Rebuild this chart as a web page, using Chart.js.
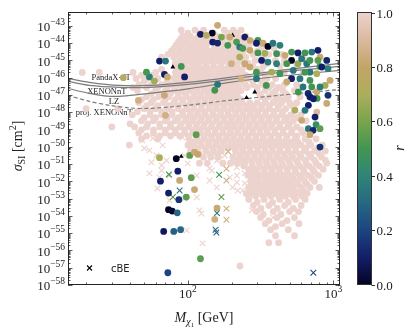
<!DOCTYPE html>
<html>
<head>
<meta charset="utf-8">
<script src="https://cdn.jsdelivr.net/npm/chart.js@4.4.1/dist/chart.umd.min.js"></script>
<style>
html, body { margin: 0; padding: 0; background: #fff; }
canvas { display: block; }
</style>
</head>
<body>
<canvas id="chart" width="415" height="332"></canvas>
<script>
// axis ranges
var massMin = 15, massMax = 1110;
var sigmaMinExp = -58, sigmaMaxExp = -42.2;
var yLabelExps = [-43, -44, -45, -46, -47, -48, -49, -50, -51, -52, -53, -54, -55, -56, -57, -58];
var xLabelExps = [2, 3];
var colorbarTicks = [0, 0.2, 0.4, 0.6, 0.8, 1.0];

// dense r ~ 1 cloud, one row per log10(sigma)
var cloudLogSigma = [-43.25, -43.6, -43.95, -44.3, -44.65, -45.0, -45.35, -45.7, -46.05, -46.4, -46.75, -47.1,
  -47.45, -47.8, -48.15, -48.5, -48.85, -49.2, -49.55, -49.9, -50.25, -50.6, -50.95, -51.3, -51.65, -52.0,
  -52.35, -52.7, -53.05, -53.4, -53.75, -54.1, -54.45, -54.8, -55.15, -55.55, -56.9];
var cloudMass = [
  [90, 112, 128, 178, 205, 232],
  [92, 104, 118, 140, 158, 185, 222, 250],
  [86, 97, 110, 125, 138, 170, 196, 240, 280],
  [80, 90, 102, 115, 130, 152, 176, 205, 255, 320, 390],
  [73, 84, 95, 107, 120, 135, 152, 172, 198, 225, 280, 360, 440],
  [88, 100, 112, 125, 142, 160, 180, 205, 232, 290, 400, 460, 640],
  [84, 96, 108, 120, 134, 150, 168, 190, 215, 245, 280, 330, 430, 560],
  [18.8, 24.6, 42, 60, 82, 92, 104, 116, 130, 146, 164, 185, 210, 236, 320, 460, 620],
  [44, 52, 62, 80, 90, 100, 112, 126, 142, 160, 180, 204, 228, 262, 300, 350, 400, 510],
  [46, 56, 66, 76, 86, 97, 108, 122, 136, 152, 172, 194, 218, 248, 280, 330, 380, 460, 560],
  [45, 60, 70, 80, 92, 104, 116, 130, 146, 164, 184, 206, 232, 340, 400, 450, 540],
  [52, 63, 74, 86, 98, 110, 123, 138, 155, 174, 196, 220, 320, 360, 420, 490, 590],
  [46, 56, 68, 80, 92, 104, 117, 132, 148, 166, 186, 210, 236, 266, 300, 340, 385, 440, 500, 560],
  [20, 33, 50, 60, 72, 86, 98, 110, 124, 140, 158, 178, 200, 226, 254, 286, 322, 365, 415, 470, 540],
  [41.5, 55, 66, 78, 92, 104, 117, 132, 150, 168, 190, 214, 240, 270, 304, 342, 388, 440, 510, 600],
  [48, 58, 70, 82, 96, 108, 122, 138, 156, 176, 198, 222, 250, 282, 318, 358, 405, 460, 530, 650],
  [30, 43, 52, 64, 76, 88, 101, 114, 128, 145, 164, 184, 206, 232, 262, 295, 332, 375, 425, 485, 560],
  [46, 58, 70, 82, 95, 108, 122, 137, 154, 174, 196, 220, 247, 278, 314, 352, 398, 452, 515, 620],
  [48, 62, 102, 116, 130, 146, 164, 184, 206, 232, 260, 292, 330, 372, 420, 475, 545, 640, 760],
  [39.6, 100, 110, 124, 140, 157, 177, 200, 224, 252, 284, 320, 360, 405, 458, 520, 600, 700, 840],
  [104, 133, 150, 170, 212, 238, 268, 302, 340, 382, 430, 488, 550, 630, 740, 880],
  [128, 144, 162, 204, 228, 256, 288, 324, 365, 412, 465, 525, 600, 700, 830],
  [120, 136, 174, 196, 220, 246, 276, 310, 348, 392, 442, 500, 570, 650, 760, 900],
  [262, 296, 334, 376, 424, 480, 545, 620, 720, 850],
  [258, 284, 318, 358, 402, 455, 515, 585, 670, 790],
  [270, 304, 342, 385, 435, 490, 555, 635, 740],
  [262, 292, 326, 366, 412, 465, 525, 600, 690, 800],
  [252, 278, 310, 350, 395, 445, 505, 575, 660],
  [262, 334, 428, 550, 640],
  [282, 360, 462, 600],
  [296, 386, 500, 575],
  [316, 410, 540],
  [340, 445, 580],
  [370, 490],
  [400, 540],
  [360, 420],
  [228]
];
// in-between rows of the same cloud
var cloudMidLogSigma = [-43.42, -43.77, -44.12, -44.47, -44.82, -45.17, -45.52, -45.87, -46.22, -46.57, -46.92, -47.27,
  -47.62, -47.97, -48.32, -48.67, -49.02, -49.37, -49.72, -50.07, -50.42, -50.77, -51.12, -51.47, -51.82, -52.17,
  -52.52, -52.87, -53.22, -53.57, -53.92, -54.27, -54.62];
var cloudMidMass = [
  [100, 120, 150, 192, 218],
  [89, 100, 114, 130, 148, 176, 210, 236],
  [83, 93, 105, 120, 134, 160, 186, 222, 262],
  [77, 88, 99, 110, 125, 142, 162, 188, 215, 240, 300],
  [66, 80, 92, 103, 115, 130, 146, 165, 188, 215, 250, 330],
  [82, 94, 106, 118, 133, 150, 170, 192, 220, 260, 350],
  [66, 90, 100, 112, 124, 140, 157, 176, 198, 225, 300],
  [48, 56, 70, 86, 96, 108, 120, 134, 151, 170, 195, 218, 250, 340],
  [50, 58, 72, 84, 94, 104, 116, 130, 148, 166, 188, 210, 240, 280, 320],
  [42, 52, 62, 72, 82, 92, 102, 112, 128, 142, 158, 178, 200, 225, 255, 300, 360, 420],
  [56, 66, 76, 86, 96, 110, 122, 136, 150, 168, 190, 214, 310, 380, 470],
  [48, 58, 70, 82, 92, 104, 116, 130, 146, 164, 184, 206, 230, 340, 400, 460],
  [52, 62, 74, 86, 98, 110, 124, 140, 156, 176, 198, 222, 250, 280, 320, 360, 420, 520],
  [45, 55, 66, 78, 92, 104, 116, 130, 148, 168, 188, 212, 238, 268, 300, 342, 390, 450],
  [50, 60, 72, 86, 98, 110, 124, 140, 158, 178, 200, 226, 254, 286, 322, 364, 410, 480, 560],
  [40, 53, 64, 76, 90, 102, 115, 130, 147, 166, 188, 210, 236, 266, 300, 338, 380, 430, 500],
  [48, 58, 70, 82, 95, 108, 121, 136, 154, 174, 196, 220, 247, 278, 312, 350, 395, 450, 520, 600],
  [52, 64, 76, 88, 101, 115, 129, 145, 163, 184, 206, 232, 260, 294, 330, 372, 420, 480, 560],
  [108, 122, 138, 155, 175, 196, 218, 246, 276, 310, 350, 392, 440, 500, 570, 680],
  [105, 118, 132, 148, 166, 188, 212, 238, 266, 300, 338, 380, 428, 485, 550, 650, 780],
  [120, 142, 160, 226, 252, 284, 320, 360, 405, 456, 515, 585, 680, 800],
  [216, 240, 270, 304, 342, 385, 434, 490, 555, 640, 740, 880],
  [242, 278, 314, 354, 400, 452, 512, 585, 680, 800],
  [270, 300, 338, 380, 428, 484, 550, 630, 740],
  [276, 300, 336, 376, 420, 470, 530, 605, 710],
  [285, 318, 356, 398, 448, 505, 570, 660],
  [270, 300, 338, 378, 426, 480, 540, 620],
  [262, 292, 330, 372, 420, 470, 530, 610],
  [300, 382, 490],
  [318, 412, 530],
  [330, 435],
  [360, 480],
  [400]
];

// coloured circles
var pointMass = [147, 122, 134, 160, 170, 148, 160, 194, 188, 216, 63.8, 70.2, 69, 54.4, 58.9, 51.9, 94.9, 90, 72.4, 69,
  160, 153, 246, 267, 303, 328, 355, 384, 429, 227, 267, 303, 338, 407, 465, 516, 571, 638, 710, 809,
  900, 516, 321, 355, 407, 478, 571, 656, 783, 918, 267, 296, 376, 429, 516, 589, 690, 948, 618, 710,
  877, 670, 769, 918, 544, 673, 900, 638, 769, 605, 748, 760, 673, 725, 809, 690, 809, 690, 772, 63.8,
  83.2, 103, 111, 117, 64.8, 85.3, 87.7, 105.5, 111, 73.6, 86.7, 97.5, 73.6, 78, 84.5, 68.2, 80, 89.1, 122, 72.8,
  153, 158.5, 114, 238, 296, 783, 690, 809, 199, 233, 45.7, 70.2, 36,
  605, 690, 832, 530, 638, 769, 478, 809, 574, 728, 227, 246, 296, 346];
var pointLogSigma = [-43.42, -43.49, -43.55, -42.97, -43.65, -43.94, -44.0, -43.65, -44.13, -43.94, -45.04, -45.04, -45.81, -45.96, -46.2, -45.68, -45.96, -45.35, -45.96, -47.02,
  -46.39, -46.73, -43.65, -43.84, -43.84, -44.01, -44.19, -44.01, -44.13, -44.23, -44.42, -44.57, -44.59, -44.61, -44.71, -44.52, -44.57, -44.57, -44.52, -44.81,
  -45.0, -45.0, -45.0, -45.1, -45.19, -45.19, -45.19, -45.19, -45.0, -45.48, -45.39, -45.68, -45.68, -45.77, -46.06, -46.06, -46.16, -46.16, -46.54, -46.54,
  -46.45, -46.91, -46.83, -47.02, -47.89, -47.6, -47.49, -47.89, -47.99, -48.47, -48.28, -48.72, -48.95, -49.05, -48.95, -49.3, -50.02, -47.12, -47.2, -50.63,
  -50.69, -50.5, -50.31, -50.44, -51.99, -51.41, -51.95, -51.79, -52.48, -52.68, -53.06, -52.91, -53.64, -53.72, -53.82, -54.9, -54.9, -54.8, -56.48, -57.29,
  -54.2, -53.55, -49.3, -44.3, -44.01, -44.42, -45.68, -45.35, -45.19, -46.06, -47.31, -48.18, -46.0,
  -44.9, -45.0, -45.39, -45.58, -45.68, -45.77, -46.25, -46.54, -46.83, -47.22, -44.81, -45.19, -46.06, -46.45];
var pointR = [0, 0.1, 0.75, 0.82, 0.6, 0.1, 0.12, 0.82, 0.5, 0.52, 0.1, 0.35, 0.1, 0.38, 0.68, 0.5, 0.1, 0.5, 0.82, 0.82,
  0.35, 0.5, 0.1, 0.82, 0.5, 0.82, 0, 0.35, 0.38, 0.35, 0.8, 0.5, 0.68, 0.48, 0.82, 0.5, 0.1, 0.5, 0.35, 0.82,
  0.12, 0, 0.1, 0.35, 0.38, 0.5, 0.65, 0.35, 0.55, 0.38, 0.82, 0.5, 0.68, 0.5, 0.1, 0.35, 0.5, 0.82, 0.35, 0.5,
  0.68, 0.12, 0.82, 0.15, 0.7, 0.1, 0.82, 0.35, 0.9, 0.82, 0.1, 0.45, 0.35, 0.12, 0.55, 0.82, 0.15, 0.1, 0.5, 0.7,
  0, 0.55, 0.82, 0.8, 0.1, 0.1, 0.82, 0.55, 0.82, 0.1, 0.15, 0.55, 0, 0.02, 0.3, 0.08, 0.28, 0.3, 0.55, 0.2,
  0.85, 0.82, 0.55, 0.5, 0.1, 0.1, 0.35, 0.5, 0.85, 0.85, 0.85, 0.85, 0.75,
  0.35, 0.5, 0.1, 0.35, 0.5, 0.7, 0.82, 0.38, 0.5, 0.1, 0.7, 0.82, 0.35, 0.5];

// small black markers
var markMass = [78.8, 203, 288, 253, 90];
var markLogSigma = [-45.39, -43.55, -46.83, -47.16, -50.56];

// cBE crosses, coloured
var crossMass = [164, 170, 158.5, 155, 157, 728, 189, 184, 184, 184, 184, 74, 78.9, 87.7];
var crossLogSigma = [-51.62, -52.91, -53.84, -54.8, -54.96, -57.29, -50.27, -51.27, -51.95, -53.58, -54.22, -51.6, -52.91, -52.53];
var crossR = [0.5, 0.55, 0.35, 0.3, 0.3, 0.2, 0.85, 0.85, 0.85, 0.85, 0.85, 0.5, 0.55, 0.35];

// cBE crosses, r ~ 1
var paleCrossMass = [57.2, 67, 54.4, 60.8, 56.2, 65.9, 71.3, 74.8, 94.8, 106, 99.5, 115, 141, 158, 179, 210, 217, 210, 210, 235,
  217, 246, 217, 246, 203, 50.2, 66, 54.4, 63.8, 61.8, 74.8, 94.8, 115, 124, 120, 98, 126, 146, 141, 158,
  194, 220, 238, 275, 384, 384, 160, 194, 217, 48.6, 92, 115];
var paleCrossLogSigma = [-49.51, -49.92, -50.21, -50.5, -50.9, -51.37, -50.79, -51.66, -50.5, -49.75, -50.96, -51.66, -51.25, -50.79, -50.5, -50.9, -51.66, -49.63, -50.04, -49.75,
  -51.19, -51.54, -52.06, -52.12, -52.35, -50.09, -51.08, -51.54, -51.77, -52.41, -53.1, -52.99, -52.93, -53.86, -53.68, -54.84, -55.59, -51.37, -51.95, -52.35,
  -51.77, -52.53, -52.53, -53.68, -53.28, -54.09, -49.92, -50.04, -50.04, -49.63, -49.46, -49.75];

// experimental limits
var limitNames = ['PandaX-4T', 'XENONnT', 'LZ', 'proj. XENONnT'];
var limitLabelMass = [29.7, 27.7, 31, 26.6];
var limitLabelLogSigma = [-46.0, -46.83, -47.41, -48.03];
var pandaMass = [14.9, 21, 33.8, 54.4, 100, 194, 429, 1112];
var pandaLogSigma = [-46.04, -46.27, -46.45, -46.45, -46.27, -45.98, -45.58, -45.17];
var xenonMass = [14.9, 21, 33.8, 54.4, 100, 194, 429, 1112];
var xenonLogSigma = [-46.21, -46.45, -46.56, -46.56, -46.39, -46.1, -45.69, -45.35];
var lzMass = [14.9, 21, 26.6, 33.8, 46.4, 100, 194, 429, 1112];
var lzLogSigma = [-46.62, -46.91, -47.05, -47.08, -46.97, -46.65, -46.27, -45.92, -45.58];
var projMass = [14.9, 21, 28.9, 39.6, 54.4, 100, 194, 429, 1112];
var projLogSigma = [-47.02, -47.37, -47.6, -47.75, -47.78, -47.6, -47.31, -47.02, -46.68];

var SERIF = '"Liberation Serif", "DejaVu Serif", serif';
var cmapStops = [[0, [3, 3, 35]], [0.1, [18, 30, 105]], [0.2, [28, 68, 128]], [0.3, [38, 104, 130]],
  [0.4, [48, 132, 118]], [0.5, [66, 150, 82]], [0.6, [122, 164, 76]], [0.7, [172, 174, 92]],
  [0.8, [196, 164, 104]], [0.9, [218, 186, 158]], [1, [237, 211, 206]]];

function cmap(r) {
  for (var i = 1; i < cmapStops.length; i++) {
    if (r <= cmapStops[i][0]) {
      var a = cmapStops[i - 1], b = cmapStops[i];
      var t = (r - a[0]) / (b[0] - a[0]);
      var c = a[1].map(function (v, k) { return Math.round(v + (b[1][k] - v) * t); });
      return 'rgb(' + c.join(',') + ')';
    }
  }
  return 'rgb(' + cmapStops[cmapStops.length - 1][1].join(',') + ')';
}

function toPoints(mass, logSigma) {
  return mass.map(function (m, i) { return { x: m, y: Math.pow(10, logSigma[i]) }; });
}

function rowsToPoints(rowSigma, rowMass, out) {
  for (var i = 0; i < rowSigma.length; i++) {
    for (var j = 0; j < rowMass[i].length; j++) {
      out.push({ x: rowMass[i][j], y: Math.pow(10, rowSigma[i]) });
    }
  }
  return out;
}

var cloudPoints = rowsToPoints(cloudMidLogSigma, cloudMidMass, rowsToPoints(cloudLogSigma, cloudMass, []));

function limitLine(mass, logSigma, dash) {
  return {
    data: toPoints(mass, logSigma), showLine: true, pointRadius: 0, borderColor: '#7c7c7c',
    borderWidth: 1.2, borderDash: dash, tension: 0.3, order: 2
  };
}

function drawRich(ctx, parts, x, y, align) {
  var w = 0;
  parts.forEach(function (p) { ctx.font = p.f; p.w = ctx.measureText(p.t).width; w += p.w; });
  var cx = align === 'right' ? x - w : (align === 'center' ? x - w / 2 : x);
  ctx.textAlign = 'left';
  ctx.textBaseline = 'alphabetic';
  parts.forEach(function (p) { ctx.font = p.f; ctx.fillText(p.t, cx, y + (p.dy || 0)); cx += p.w; });
}

var decor = {
  id: 'decor',
  beforeDatasetsDraw: function (chart) {
    var ctx = chart.ctx, xs = chart.scales.x, ys = chart.scales.y;
    ctx.save();
    ctx.fillStyle = '#222';
    ctx.font = '8.5px ' + SERIF;
    ctx.textAlign = 'center';
    ctx.textBaseline = 'middle';
    for (var i = 0; i < limitNames.length; i++) {
      ctx.fillText(limitNames[i], xs.getPixelForValue(limitLabelMass[i]), ys.getPixelForValue(Math.pow(10, limitLabelLogSigma[i])));
    }
    ctx.restore();
  },
  afterDraw: function (chart) {
    var ctx = chart.ctx, a = chart.chartArea, xs = chart.scales.x, ys = chart.scales.y;
    var base = '13px ' + SERIF, sup = '9.5px ' + SERIF;
    ctx.save();
    ctx.strokeStyle = '#333';
    ctx.lineWidth = 0.8;
    ctx.beginPath();
    // y ticks, inward on both sides
    for (var e = sigmaMinExp; e <= Math.floor(sigmaMaxExp); e++) {
      for (var k = 1; k <= 9; k++) {
        var v = k * Math.pow(10, e);
        if (Math.log10(v) > sigmaMaxExp) continue;
        var py = Math.round(ys.getPixelForValue(v)) + 0.5;
        var len = k === 1 ? 4.5 : 2.5;
        ctx.moveTo(a.left, py); ctx.lineTo(a.left + len, py);
        ctx.moveTo(a.right, py); ctx.lineTo(a.right - len, py);
      }
    }
    // x ticks
    for (var d = 1; d <= 3; d++) {
      for (var k2 = 1; k2 <= 9; k2++) {
        var m = k2 * Math.pow(10, d);
        if (m < massMin || m > massMax) continue;
        var px = Math.round(xs.getPixelForValue(m)) + 0.5;
        var l2 = k2 === 1 ? 4.5 : 2.5;
        ctx.moveTo(px, a.bottom); ctx.lineTo(px, a.bottom - l2);
        ctx.moveTo(px, a.top); ctx.lineTo(px, a.top + l2);
      }
    }
    ctx.stroke();
    ctx.strokeStyle = '#222';
    ctx.lineWidth = 1;
    ctx.strokeRect(a.left + 0.5, a.top + 0.5, a.right - a.left - 1, a.bottom - a.top - 1);

    ctx.fillStyle = '#222';
    yLabelExps.forEach(function (ex) {
      var py2 = ys.getPixelForValue(Math.pow(10, ex));
      drawRich(ctx, [{ t: '10', f: base }, { t: '\u2212' + Math.abs(ex), f: sup, dy: -6 }], a.left - 3, py2 + 5.2, 'right');
    });
    xLabelExps.forEach(function (ex) {
      var px2 = xs.getPixelForValue(Math.pow(10, ex));
      drawRich(ctx, [{ t: '10', f: base }, { t: String(ex), f: sup, dy: -6 }], px2, 298, 'center');
    });

    // axis titles
    drawRich(ctx, [{ t: 'M', f: 'italic 14px ' + SERIF }, { t: '\u03c7', f: 'italic 10px ' + SERIF, dy: 3 },
      { t: '1', f: '7px ' + SERIF, dy: 5 }, { t: ' [GeV]', f: '14px ' + SERIF }], (a.left + a.right) / 2, 322, 'center');
    ctx.save();
    ctx.translate(22, 146);
    ctx.rotate(-Math.PI / 2);
    drawRich(ctx, [{ t: '\u03c3', f: 'italic 14px ' + SERIF }, { t: 'SI', f: '10px ' + SERIF, dy: 3 },
      { t: ' [cm', f: '14px ' + SERIF }, { t: '2', f: '10px ' + SERIF, dy: -6 }, { t: ']', f: '14px ' + SERIF }], 0, 0, 'center');
    ctx.restore();

    // legend
    ctx.strokeStyle = '#000';
    ctx.lineWidth = 1.1;
    ctx.beginPath();
    ctx.moveTo(87, 265.5); ctx.lineTo(92, 270.5);
    ctx.moveTo(92, 265.5); ctx.lineTo(87, 270.5);
    ctx.stroke();
    ctx.font = '10px "DejaVu Sans", sans-serif';
    ctx.textAlign = 'left';
    ctx.fillText('cBE', 111, 272);

    // colorbar
    var cbL = 357.5, cbW = 14;
    var grad = ctx.createLinearGradient(0, a.bottom, 0, a.top);
    cmapStops.forEach(function (s) { grad.addColorStop(s[0], 'rgb(' + s[1].join(',') + ')'); });
    ctx.fillStyle = grad;
    ctx.fillRect(cbL, a.top, cbW, a.bottom - a.top);
    ctx.strokeStyle = '#333';
    ctx.lineWidth = 1;
    ctx.strokeRect(cbL, a.top + 0.5, cbW, a.bottom - a.top - 1);
    ctx.fillStyle = '#222';
    ctx.font = '13px ' + SERIF;
    ctx.beginPath();
    colorbarTicks.forEach(function (t) {
      var py3 = Math.round(a.bottom - 0.5 - t * (a.bottom - a.top - 1)) + 0.5;
      ctx.moveTo(cbL + cbW, py3); ctx.lineTo(cbL + cbW + 3.5, py3);
      ctx.fillText(t.toFixed(1), cbL + cbW + 5, py3 + 4.5);
    });
    ctx.stroke();
    ctx.save();
    ctx.translate(404, 148);
    ctx.rotate(-Math.PI / 2);
    ctx.font = 'italic 14px ' + SERIF;
    ctx.textAlign = 'center';
    ctx.fillText('r', 0, 0);
    ctx.restore();
    ctx.restore();
  }
};

new Chart(document.getElementById('chart').getContext('2d'), {
  type: 'scatter',
  data: {
    datasets: [
      { data: toPoints(pointMass, pointLogSigma), pointBackgroundColor: pointR.map(cmap), pointBorderWidth: 0, pointRadius: 3.4, order: 0 },
      { data: toPoints(markMass, markLogSigma), pointStyle: 'triangle', pointBackgroundColor: '#000', pointBorderWidth: 0, pointRadius: 2.8, order: 0 },
      { data: toPoints(crossMass, crossLogSigma), pointStyle: 'crossRot', pointBorderColor: crossR.map(cmap), pointBorderWidth: 1.1, pointRadius: 4, order: 1 },
      limitLine(pandaMass, pandaLogSigma, []),
      limitLine(xenonMass, xenonLogSigma, []),
      limitLine(lzMass, lzLogSigma, []),
      limitLine(projMass, projLogSigma, [4, 2.5]),
      { data: toPoints(paleCrossMass, paleCrossLogSigma), pointStyle: 'crossRot', pointBorderColor: cmap(1), pointBorderWidth: 1.1, pointRadius: 4, order: 3 },
      { data: cloudPoints, pointBackgroundColor: cmap(1), pointBorderWidth: 0, pointRadius: 3.4, order: 4 }
    ]
  },
  options: {
    responsive: false,
    animation: false,
    devicePixelRatio: 1,
    events: [],
    layout: { padding: { left: 0, top: 12, right: 75, bottom: 0 } },
    plugins: { legend: { display: false }, tooltip: { enabled: false } },
    scales: {
      x: {
        type: 'logarithmic', min: massMin, max: massMax,
        grid: { display: false }, border: { display: false }, ticks: { display: false },
        afterFit: function (s) { s.height = 47; }
      },
      y: {
        type: 'logarithmic', min: Math.pow(10, sigmaMinExp), max: Math.pow(10, sigmaMaxExp),
        grid: { display: false }, border: { display: false }, ticks: { display: false },
        afterFit: function (s) { s.width = 68; }
      }
    }
  },
  plugins: [decor]
});
</script>
</body>
</html>
